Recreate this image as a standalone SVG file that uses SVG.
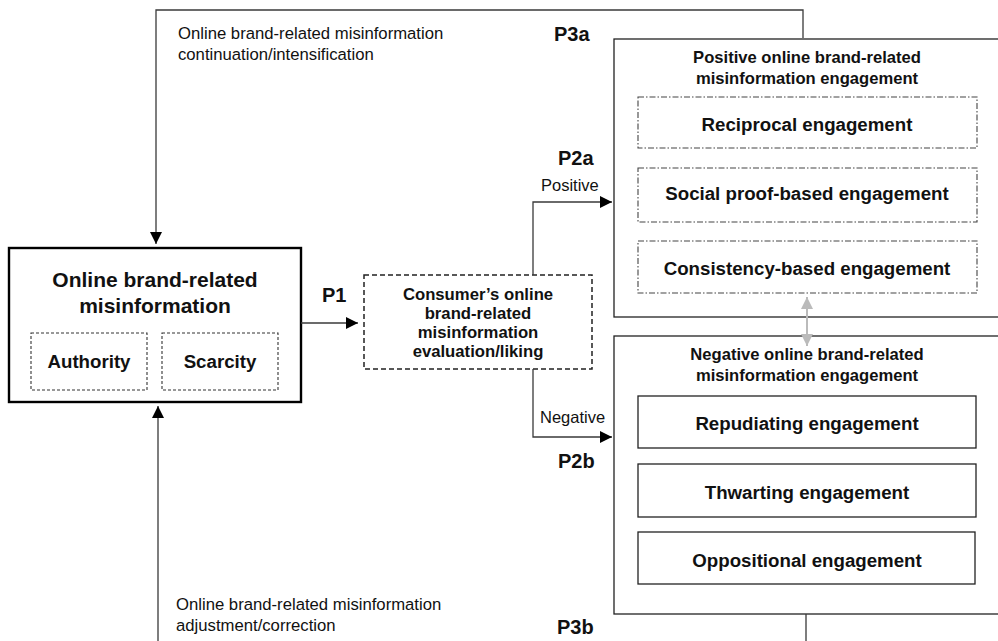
<svg xmlns="http://www.w3.org/2000/svg" width="998" height="641" viewBox="0 0 998 641">
<defs>
<style>
.b{font-family:"Liberation Sans",Arial,sans-serif;font-weight:bold;fill:#111}
.r{font-family:"Liberation Sans",Arial,sans-serif;fill:#111}
.ln{fill:none;stroke:#3a3a3a;stroke-width:1.3}
.box{fill:#fff;stroke:#222;stroke-width:1.3}
.dd{fill:none;stroke:#444;stroke-width:1.1;stroke-dasharray:6 2 1.5 2}
.ds{fill:none;stroke:#333;stroke-width:1.1;stroke-dasharray:3 2}
</style>
<marker id="ah" viewBox="0 0 12 12" refX="12" refY="6" markerWidth="12" markerHeight="12" markerUnits="userSpaceOnUse" orient="auto">
<path d="M0,0 L12,6 L0,12 Z" fill="#000"/>
</marker>
<marker id="gh" viewBox="0 0 12 12" refX="12" refY="6" markerWidth="12" markerHeight="12" markerUnits="userSpaceOnUse" orient="auto-start-reverse">
<path d="M0,0 L12,6 L0,12 Z" fill="#bbb"/>
</marker>
</defs>
<rect width="998" height="641" fill="#fff"/>

<g id="labels">
<text class="r" x="178" y="39" font-size="16.7">Online brand-related misinformation</text>
<text class="r" x="178" y="60" font-size="16.7">continuation/intensification</text>
<text class="r" x="176" y="610" font-size="16.7">Online brand-related misinformation</text>
<text class="r" x="176" y="631" font-size="16.7">adjustment/correction</text>
<text class="b" x="554" y="41" font-size="20">P3a</text>
<text class="b" x="558" y="165" font-size="20">P2a</text>
<text class="b" x="322" y="302" font-size="20">P1</text>
<text class="b" x="558" y="468" font-size="20">P2b</text>
<text class="b" x="557" y="634" font-size="20">P3b</text>
<text class="r" x="541" y="191" font-size="16.5">Positive</text>
<text class="r" x="540" y="423" font-size="16.5">Negative</text>
</g>

<g id="misinfo">
<rect x="9" y="248" width="292" height="154" fill="#fff" stroke="#000" stroke-width="2.4"/>
<text class="b" x="155" y="287" font-size="21" text-anchor="middle">Online brand-related</text>
<text class="b" x="155" y="313" font-size="21" text-anchor="middle">misinformation</text>
</g>
<g id="authority">
<rect class="ds" x="31" y="333" width="116" height="57"/>
<text class="b" x="89" y="368" font-size="18.7" text-anchor="middle">Authority</text>
</g>
<g id="scarcity">
<rect class="ds" x="162" y="333" width="116" height="57"/>
<text class="b" x="220" y="368" font-size="18.7" text-anchor="middle">Scarcity</text>
</g>

<g id="evaluation">
<rect x="364" y="275" width="228" height="94" fill="#fff" stroke="#222" stroke-width="1.5" stroke-dasharray="5 3"/>
<text class="b" x="478" y="300" font-size="16.7" text-anchor="middle">Consumer’s online</text>
<text class="b" x="478" y="319" font-size="16.7" text-anchor="middle">brand-related</text>
<text class="b" x="478" y="338" font-size="16.7" text-anchor="middle">misinformation</text>
<text class="b" x="478" y="357" font-size="16.7" text-anchor="middle">evaluation/liking</text>
</g>

<g id="positive">
<rect class="box" x="614" y="39" width="400" height="278"/>
<text class="b" x="807" y="63" font-size="16.6" text-anchor="middle">Positive online brand-related</text>
<text class="b" x="807" y="84" font-size="16.6" text-anchor="middle">misinformation engagement</text>
</g>
<g id="reciprocal">
<rect class="dd" x="638" y="97" width="339" height="51"/>
<text class="b" x="807" y="131" font-size="18.7" text-anchor="middle">Reciprocal engagement</text>
</g>
<g id="socialproof">
<rect class="dd" x="638" y="168" width="339" height="54"/>
<text class="b" x="807" y="200" font-size="18.7" text-anchor="middle">Social proof-based engagement</text>
</g>
<g id="consistency">
<rect class="dd" x="638" y="241" width="339" height="52"/>
<text class="b" x="807" y="275" font-size="18.7" text-anchor="middle">Consistency-based engagement</text>
</g>

<g id="negative">
<rect class="box" x="614" y="336" width="400" height="278"/>
<text class="b" x="807" y="360" font-size="16.6" text-anchor="middle">Negative online brand-related</text>
<text class="b" x="807" y="381" font-size="16.6" text-anchor="middle">misinformation engagement</text>
</g>
<g id="repudiating">
<rect class="box" x="638" y="396" width="338" height="52"/>
<text class="b" x="807" y="430" font-size="18.7" text-anchor="middle">Repudiating engagement</text>
</g>
<g id="thwarting">
<rect class="box" x="638" y="464" width="338" height="53"/>
<text class="b" x="807" y="499" font-size="18.7" text-anchor="middle">Thwarting engagement</text>
</g>
<g id="oppositional">
<rect class="box" x="638" y="532" width="337" height="52"/>
<text class="b" x="807" y="567" font-size="18.7" text-anchor="middle">Oppositional engagement</text>
</g>

<g id="connectors">
<path class="ln" d="M803,38 L803,10 L156,10 L156,244" marker-end="url(#ah)"/>
<path class="ln" d="M806,614 L806,645 M158,645 L158,406" marker-end="url(#ah)"/>
<path class="ln" d="M301,323 L358,323" marker-end="url(#ah)"/>
<path class="ln" d="M533,275 L533,202 L612,202" marker-end="url(#ah)"/>
<path class="ln" d="M533,369 L533,437 L612,437" marker-end="url(#ah)"/>
<path d="M807,346 L807,297" fill="none" stroke="#bbb" stroke-width="2" marker-start="url(#gh)" marker-end="url(#gh)"/>
</g>
</svg>
